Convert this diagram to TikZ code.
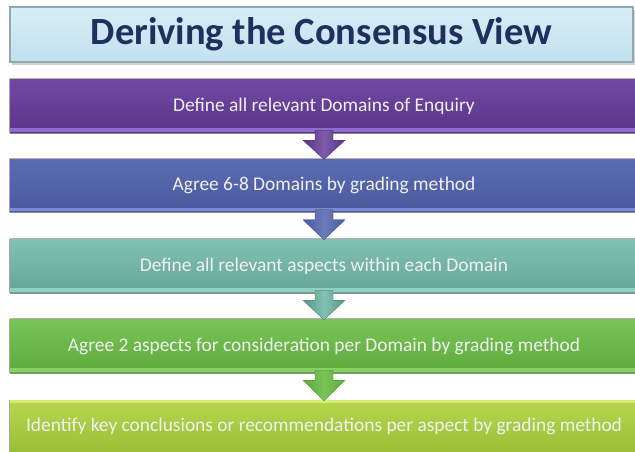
\documentclass[tikz,border=0pt]{standalone}
\usepackage{fontspec}
\setmainfont{Carlito}
\usetikzlibrary{calc}
\definecolor{titletop}{HTML}{D6EDF6}
\definecolor{titlebot}{HTML}{C2E1EE}
\definecolor{titleline}{HTML}{8FA9B2}
\definecolor{titletext}{HTML}{1F2F5E}
\definecolor{purtop}{HTML}{7149A2}
\definecolor{purbot}{HTML}{5A3488}
\definecolor{purstrip}{HTML}{8E6BCF}
\definecolor{blutop}{HTML}{5B6CB2}
\definecolor{blubot}{HTML}{4A599D}
\definecolor{blustrip}{HTML}{7A8AD6}
\definecolor{teatop}{HTML}{82C2B4}
\definecolor{teabot}{HTML}{63A596}
\definecolor{teastrip}{HTML}{8ED0C2}
\definecolor{gretop}{HTML}{7AC457}
\definecolor{grebot}{HTML}{5DAA3C}
\definecolor{grestrip}{HTML}{86D064}
\definecolor{yeltop}{HTML}{B8D64F}
\definecolor{yelbot}{HTML}{98BE36}
\definecolor{yelstrip}{HTML}{D4EC74}
\definecolor{boxtext}{HTML}{F0F0F0}
\tikzset{
  stepbox/.style={rectangle, minimum width=628, minimum height=54, inner sep=0,
    font=\fontsize{19.4}{22}\selectfont, text=boxtext},
  titlebox/.style={rectangle, minimum width=623, minimum height=55, inner sep=0,
    draw=titleline, line width=1.2, top color=titletop, bottom color=titlebot,
    text=titletext, font=\fontsize{38.5}{42}\selectfont\bfseries}
}
\newcommand{\blockarr}[4]{%
  % #1 upper node, #2 lower node, #3 dark colour, #4 light colour
  \path[left color=#3, right color=#3, middle color=#4, draw=#3!85!black, line width=0.4]
    ($(#1.south)+(-9,-3)$) -- ($(#1.south)+(9,-3)$) -- ($(#1.south)+(9,7)$)
    -- ($(#1.south)+(21,7)$) -- ($(#2.north)+(0,1)$) -- ($(#1.south)+(-21,7)$)
    -- ($(#1.south)+(-9,7)$) -- cycle;}
\begin{document}
\begin{tikzpicture}[x=1pt,y=-1pt]
\useasboundingbox (0,0) rectangle (635,451);
\clip (0,0) rectangle (635,451);
\fill[white] (0,0) rectangle (635,451);
% title
\fill[gray!35] (12,10) rectangle (636,65);
\node[titlebox] (title) at (321.5,34.5) {Deriving the Consensus View};
% steps
\node[stepbox, top color=purtop, bottom color=purbot] (s1) at (324,106) {};
\node[stepbox, top color=blutop, bottom color=blubot] (s2) at (324,185.5) {};
\node[stepbox, top color=teatop, bottom color=teabot] (s3) at (324,266) {};
\node[stepbox, top color=gretop, bottom color=grebot] (s4) at (324,346) {};
\node[stepbox, top color=yeltop, bottom color=yelbot] (s5) at (324,427) {};
% bevel strips and edges
\foreach \n/\c in {s1/purstrip, s2/blustrip, s3/teastrip, s4/grestrip}{
  \fill[\c] ($(\n.south west)+(0,-5)$) rectangle ($(\n.south east)+(0,-1.5)$);
  \draw[black!45, line width=0.8] (\n.south west) -- (\n.south east);
  \draw[black!30, line width=0.8] (\n.north west) -- (\n.north east);
  \draw[black!35, line width=0.8] (\n.north west) -- (\n.south west);
}
\fill[yelstrip] (s5.north west) rectangle ($(s5.north east)+(0,3)$);
\draw[black!35, line width=0.8] (s5.north west) -- (s5.south west);
% arrows
\blockarr{s1}{s2}{purbot}{purtop!90!white}
\blockarr{s2}{s3}{blubot}{blutop!90!white}
\blockarr{s3}{s4}{teabot!90!black}{teatop}
\blockarr{s4}{s5}{grebot}{gretop}
% texts
\node[stepbox, minimum height=0, minimum width=0] (t1) at (s1) {Define all relevant Domains of Enquiry};
\node[stepbox, minimum height=0, minimum width=0] (t2) at (s2) {Agree 6-8 Domains by grading method};
\node[stepbox, minimum height=0, minimum width=0] (t3) at (s3) {Define all relevant aspects within each Domain};
\node[stepbox, minimum height=0, minimum width=0] (t4) at (s4) {Agree 2 aspects for consideration per Domain by grading method};
\node[stepbox, minimum height=0, minimum width=0] (t5) at ($(s5)+(0,-1)$) {Identify key conclusions or recommendations per aspect by grading method};
\end{tikzpicture}
\end{document}
